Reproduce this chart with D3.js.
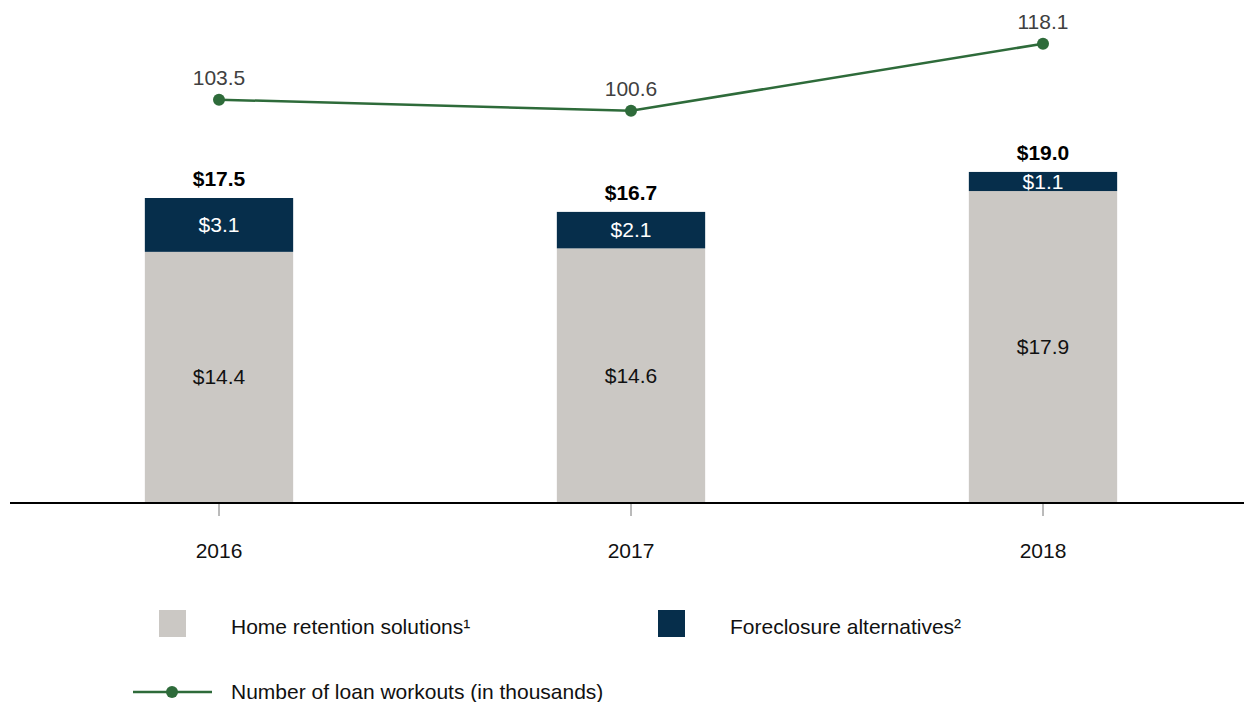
<!doctype html>
<meta charset="utf-8">

<style>
 body { margin: 0; background: #fff; }
 svg text {
     font-family: "Liberation Sans", Arial, sans-serif;
     font-size: 21px;
 }
 .total { font-weight: bold; fill: #000; }
 .line-label { fill: #404040; }
</style>

<svg width="1244" height="702"></svg>

<script src="https://d3js.org/d3.v7.min.js"></script>
<script>
 // Data
 var years = ['2016', '2017', '2018'];
 var homeRetention = [14.4, 14.6, 17.9];
 var foreclosureAlt = [3.1, 2.1, 1.1];
 var totals = [17.5, 16.7, 19.0];
 var workouts = [103.5, 100.6, 118.1];

 var seriesNames = ['Home retention solutions\u00b9', 'Foreclosure alternatives\u00b2'];
 var lineName = 'Number of loan workouts (in thousands)';

 var colors = { home: '#cbc8c4', fore: '#062e4b', line: '#2e6b3a' };

 // Set up SVG
 var svg = d3.select('svg');
 var baseline = 502;

 var x = d3.scaleBand()
           .domain(years)
           .range([13, 1249])
           .paddingInner(0.64)
           .paddingOuter(0.32);

 var y = d3.scaleLinear().domain([0, 17.5]).range([baseline, 198]);
 var y2 = d3.scaleLinear().domain([0, 129]).range([496, 2]);

 var rows = years.map(function(yr, i) {
   return { year: yr, home: homeRetention[i], fore: foreclosureAlt[i], total: totals[i], n: workouts[i] };
 });

 // bars
 var g = svg.append('g');
 var bw = x.bandwidth();

 g.selectAll('rect.home').data(rows).enter().append('rect')
   .attr('x', function(d) { return x(d.year); })
   .attr('y', function(d) { return y(d.home); })
   .attr('width', bw)
   .attr('height', function(d) { return baseline - y(d.home); })
   .attr('fill', colors.home);

 g.selectAll('rect.fore').data(rows).enter().append('rect')
   .attr('x', function(d) { return x(d.year); })
   .attr('y', function(d) { return y(d.home + d.fore); })
   .attr('width', bw)
   .attr('height', function(d) { return y(d.home) - y(d.home + d.fore); })
   .attr('fill', colors.fore);

 // segment labels
 g.selectAll('text.hl').data(rows).enter().append('text')
   .attr('x', function(d) { return x(d.year) + bw / 2; })
   .attr('y', function(d) { return (y(d.home) + baseline) / 2; })
   .attr('dy', '0.35em')
   .attr('text-anchor', 'middle')
   .attr('fill', '#111')
   .text(function(d) { return '$' + d.home.toFixed(1); });

 g.selectAll('text.fl').data(rows).enter().append('text')
   .attr('x', function(d) { return x(d.year) + bw / 2; })
   .attr('y', function(d) { return (y(d.home) + y(d.home + d.fore)) / 2; })
   .attr('dy', '0.35em')
   .attr('text-anchor', 'middle')
   .attr('fill', '#fff')
   .text(function(d) { return '$' + d.fore.toFixed(1); });

 g.selectAll('text.total').data(rows).enter().append('text')
   .attr('class', 'total')
   .attr('x', function(d) { return x(d.year) + bw / 2; })
   .attr('y', function(d) { return y(d.total) - 12; })
   .attr('text-anchor', 'middle')
   .text(function(d) { return '$' + d.total.toFixed(1); });

 // x axis
 svg.append('line')
   .attr('x1', 10).attr('x2', 1244)
   .attr('y1', baseline + 1).attr('y2', baseline + 1)
   .attr('stroke', '#000').attr('stroke-width', 2);

 svg.selectAll('line.tick').data(years).enter().append('line')
   .attr('x1', function(d) { return x(d) + bw / 2; })
   .attr('x2', function(d) { return x(d) + bw / 2; })
   .attr('y1', baseline + 2).attr('y2', baseline + 14)
   .attr('stroke', '#777').attr('stroke-width', 1);

 svg.selectAll('text.year').data(years).enter().append('text')
   .attr('x', function(d) { return x(d) + bw / 2; })
   .attr('y', 558)
   .attr('text-anchor', 'middle')
   .attr('fill', '#111')
   .text(function(d) { return d; });

 // line
 var line = d3.line()
              .x(function(d) { return x(d.year) + bw / 2; })
              .y(function(d) { return y2(d.n); });

 svg.append('path')
   .datum(rows)
   .attr('d', line)
   .attr('fill', 'none')
   .attr('stroke', colors.line)
   .attr('stroke-width', 2.5);

 svg.selectAll('circle.pt').data(rows).enter().append('circle')
   .attr('cx', function(d) { return x(d.year) + bw / 2; })
   .attr('cy', function(d) { return y2(d.n); })
   .attr('r', 6)
   .attr('fill', colors.line);

 svg.selectAll('text.n').data(rows).enter().append('text')
   .attr('class', 'line-label')
   .attr('x', function(d) { return x(d.year) + bw / 2; })
   .attr('y', function(d) { return y2(d.n) - 15; })
   .attr('text-anchor', 'middle')
   .text(function(d) { return d.n.toFixed(1); });

 // legend
 var legend = svg.append('g');
 var items = [
   { name: seriesNames[0], color: colors.home, sx: 159, tx: 231 },
   { name: seriesNames[1], color: colors.fore, sx: 658, tx: 730 }
 ];
 items.forEach(function(it) {
   legend.append('rect')
     .attr('x', it.sx).attr('y', 610)
     .attr('width', 27).attr('height', 27)
     .attr('fill', it.color);
   legend.append('text')
     .attr('x', it.tx).attr('y', 627)
     .attr('dy', '0.35em')
     .attr('fill', '#111')
     .text(it.name);
 });

 legend.append('line')
   .attr('x1', 133).attr('x2', 212)
   .attr('y1', 692).attr('y2', 692)
   .attr('stroke', colors.line).attr('stroke-width', 2.5);
 legend.append('circle')
   .attr('cx', 172).attr('cy', 692).attr('r', 6)
   .attr('fill', colors.line);
 legend.append('text')
   .attr('x', 231).attr('y', 692)
   .attr('dy', '0.35em')
   .attr('fill', '#111')
   .text(lineName);
</script>
